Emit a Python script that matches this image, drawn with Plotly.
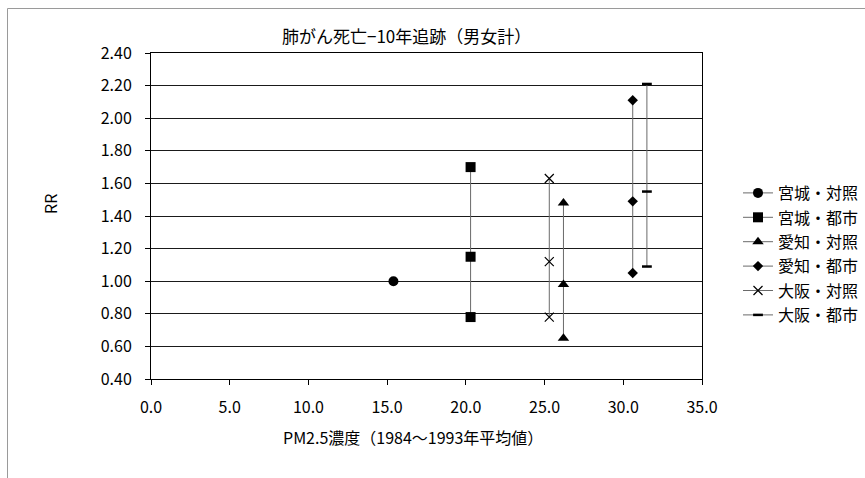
import plotly.graph_objects as go

# Relative risk (RR) with 95% CI by region/area vs PM2.5 concentration
groups = ["宮城・対照", "宮城・都市", "愛知・対照", "愛知・都市", "大阪・対照", "大阪・都市"]
pm25 = [15.4, 20.3, 26.2, 30.6, 25.3, 31.5]
rr = [1.00, 1.15, 0.98, 1.49, 1.12, 1.55]
rr_low = [None, 0.78, 0.65, 1.05, 0.78, 1.09]
rr_high = [None, 1.70, 1.48, 2.11, 1.63, 2.21]

y_ticks = [0.4, 0.6, 0.8, 1.0, 1.2, 1.4, 1.6, 1.8, 2.0, 2.2, 2.4]
x_ticks = [0, 5, 10, 15, 20, 25, 30, 35]

symbols = ["circle", "square", "triangle-up", "diamond", "x-thin-open", "line-ew-open"]
sizes = [10, 10, 10, 8, 9, 7]
line_widths = [0, 0, 0, 0, 1.2, 2.5]

FONT = "Noto Sans CJK JP"
W, H = 865, 478
L, R, T, B = 151, 163, 53, 99
pw, ph = W - L - R, H - T - B


def px_x(p):
    return (p - L) / pw


def px_y(p):
    return (H - B - p) / ph


fig = go.Figure()
for i, name in enumerate(groups):
    if rr_low[i] is None:
        ys = [rr[i]]
    else:
        ys = [rr_low[i], rr[i], rr_high[i]]
    xs = [pm25[i]] * len(ys)
    fig.add_trace(go.Scatter(
        x=xs, y=ys, name=name, mode="lines+markers",
        legendgroup=name,
        line=dict(color="#6a6a6a", width=1),
        marker=dict(symbol=symbols[i], size=sizes[i], color="black",
                    line=dict(color="black", width=line_widths[i])),
    ))

axis_common = dict(
    showline=True, linecolor="black", linewidth=1, mirror=True,
    ticks="outside", ticklen=5, tickcolor="black", tickwidth=1,
    tickfont=dict(family=FONT, size=16, color="black"),
    zeroline=False, automargin=False,
)

fig.update_xaxes(
    range=[0, 35], tickvals=x_ticks,
    ticktext=[f"{v:.1f}" for v in x_ticks],
    showgrid=False, ticklabelstandoff=9, **axis_common,
)
fig.update_yaxes(
    range=[0.4, 2.4], tickvals=y_ticks,
    ticktext=[f"{v:.2f}" for v in y_ticks],
    showgrid=True, gridcolor="#1a1a1a", gridwidth=1,
    ticklabelstandoff=10, **axis_common,
)

fig.update_layout(
    width=W, height=H,
    margin=dict(l=L, r=R, t=T, b=B, pad=0, autoexpand=False),
    paper_bgcolor="white", plot_bgcolor="white",
    font=dict(family=FONT, size=16, color="black"),
    showlegend=True,
    legend=dict(
        x=px_x(738), y=px_y(176), xanchor="left", yanchor="top",
        font=dict(family=FONT, size=16, color="black"),
        tracegroupgap=0.6, itemwidth=30, bgcolor="rgba(0,0,0,0)",
    ),
    shapes=[dict(
        type="rect", xref="paper", yref="paper",
        x0=px_x(7.5), x1=px_x(W + 10), y0=px_y(H + 10), y1=px_y(8.5),
        line=dict(color="#9a9a9a", width=1), fillcolor="rgba(0,0,0,0)",
        layer="below",
    )],
    annotations=[
        dict(text="肺がん死亡−10年追跡（男女計）", xref="paper", yref="paper",
             x=px_x(406), y=px_y(35), showarrow=False,
             xanchor="center", yanchor="middle",
             font=dict(family=FONT, size=17, color="black")),
        dict(text="PM2.5濃度（1984〜1993年平均値）", xref="paper", yref="paper",
             x=px_x(413), y=px_y(437), showarrow=False,
             xanchor="center", yanchor="middle",
             font=dict(family=FONT, size=16, color="black")),
        dict(text="RR", xref="paper", yref="paper",
             x=px_x(50), y=px_y(204), showarrow=False, textangle=-90,
             xanchor="center", yanchor="middle",
             font=dict(family=FONT, size=16, color="black")),
    ],
)

fig.write_html("out.html")
